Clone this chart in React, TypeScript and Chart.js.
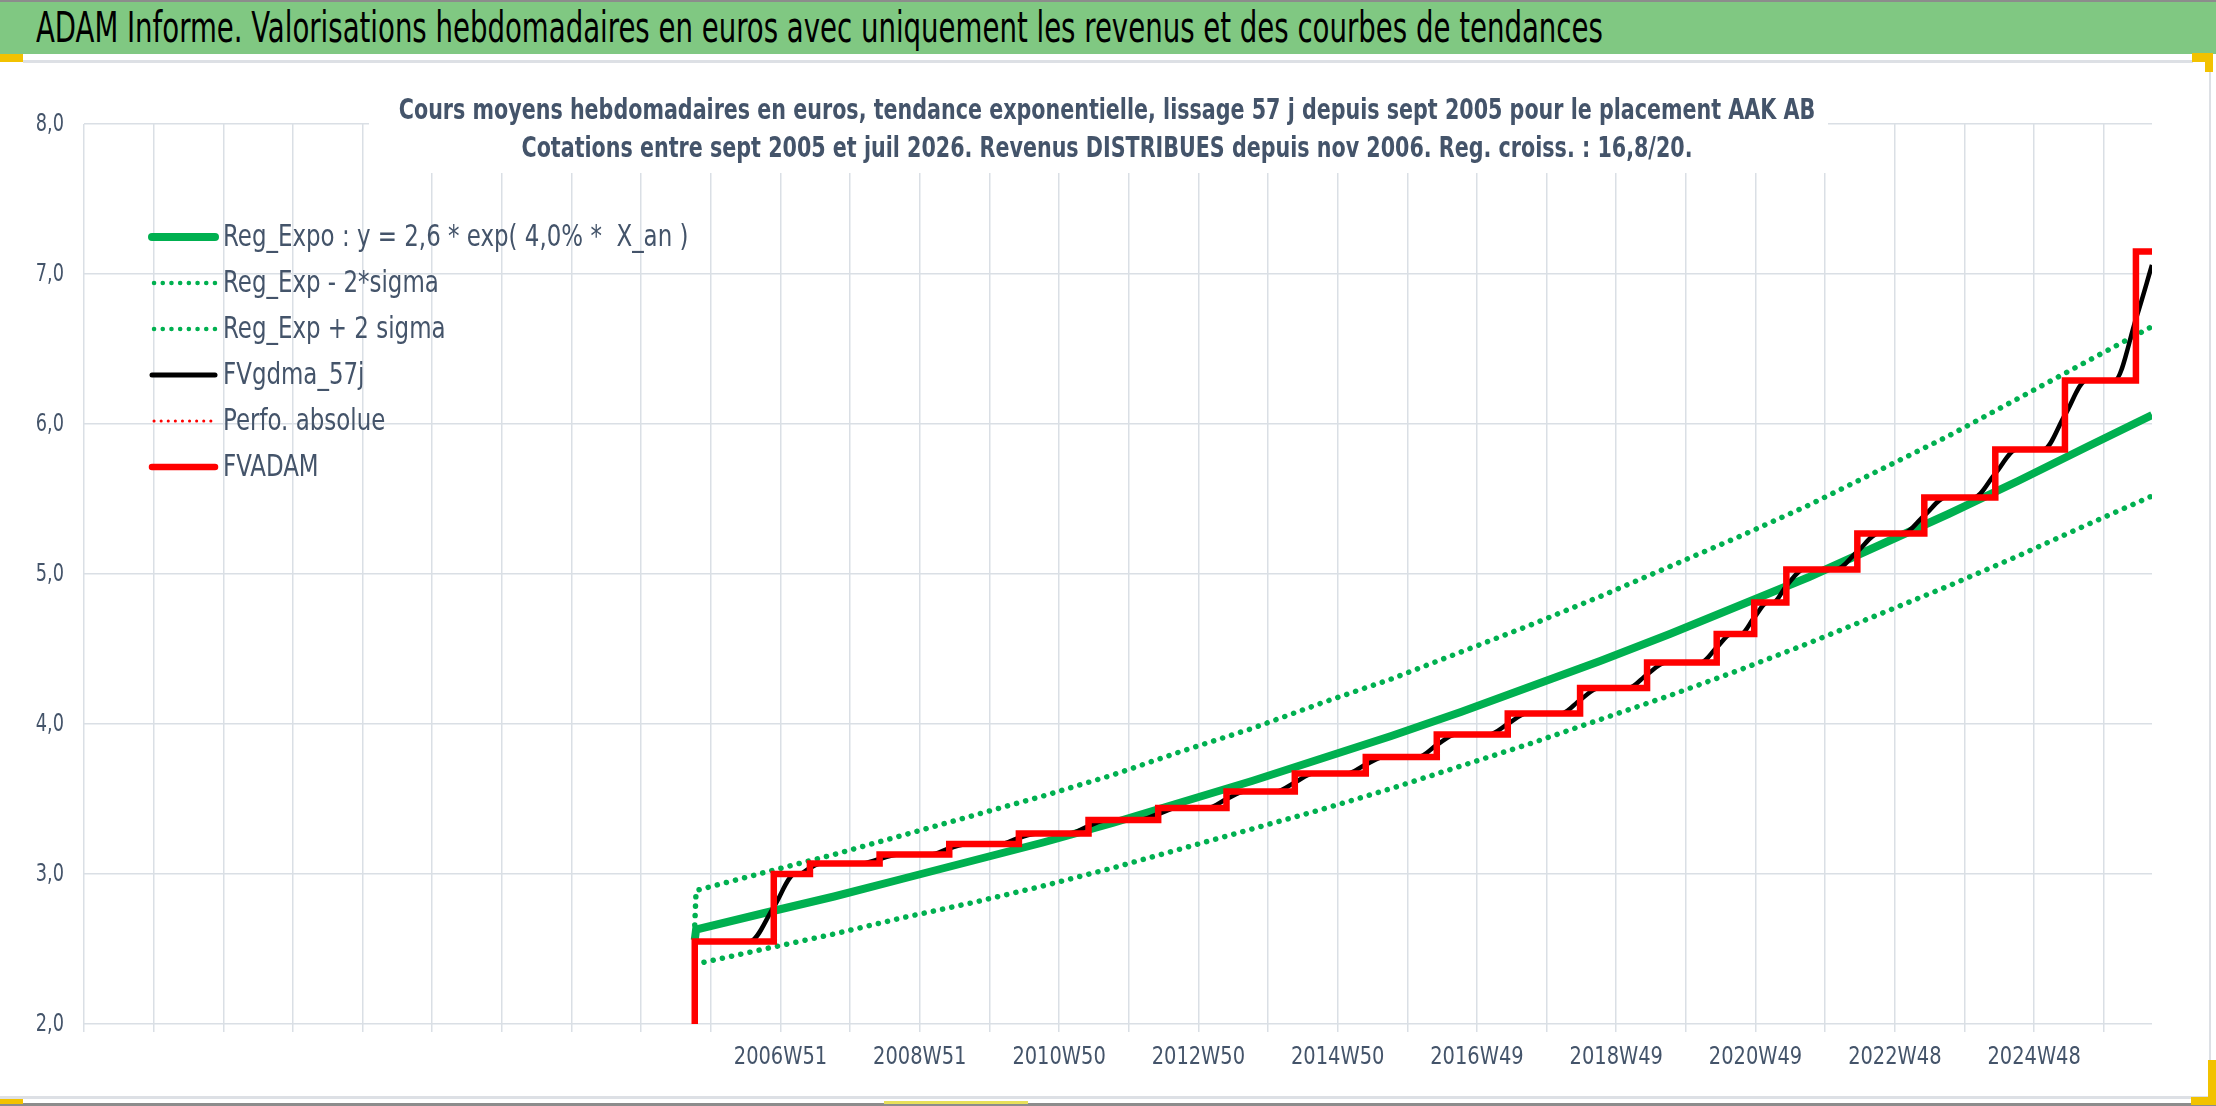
import React, { useEffect, useRef } from 'react';
import { Chart, registerables } from 'chart.js';

Chart.register(...registerables);

// weeks are counted from the first (empty) category of the axis
const xLabelWeeks = [520, 624, 728, 832, 936, 1040, 1144, 1248, 1352, 1456];
const xLabels = ['2006W51', '2008W51', '2010W50', '2012W50', '2014W50', '2016W49', '2018W49', '2020W49', '2022W48', '2024W48'];
const xLastWeek = 1544;
const weeksPerGrid = 52;

// exponential trend and its +/- 2 sigma band, read about once a year
const regWeeks = [456, 457, 508, 560, 612, 664, 716, 768, 820, 872, 924, 976, 1028, 1080, 1132, 1184, 1236, 1288, 1340, 1392, 1444, 1496, 1544];
const regValues = [2.56, 2.63, 2.74, 2.85, 2.97, 3.09, 3.21, 3.34, 3.48, 3.62, 3.77, 3.92, 4.08, 4.25, 4.42, 4.60, 4.79, 4.98, 5.19, 5.40, 5.62, 5.85, 6.06];
const regLowValues = [2.40, 2.40, 2.50, 2.60, 2.71, 2.81, 2.92, 3.04, 3.17, 3.30, 3.43, 3.57, 3.72, 3.87, 4.03, 4.19, 4.36, 4.54, 4.73, 4.92, 5.12, 5.33, 5.52];
const regHighValues = [2.66, 2.89, 3.01, 3.13, 3.26, 3.39, 3.52, 3.66, 3.82, 3.97, 4.14, 4.30, 4.48, 4.66, 4.85, 5.05, 5.25, 5.46, 5.69, 5.92, 6.17, 6.42, 6.65];

// FVADAM: week of each step and the level reached after it
const adamStartLevel = 2.0;
const adamStepWeeks = [456, 515, 542, 594, 646, 698, 750, 802, 853, 904, 957, 1010, 1063, 1117, 1167, 1219, 1247, 1271, 1324, 1374, 1427, 1479, 1532];
const adamLevels = [2.55, 3.00, 3.07, 3.13, 3.20, 3.27, 3.36, 3.44, 3.55, 3.67, 3.78, 3.93, 4.07, 4.24, 4.41, 4.60, 4.81, 5.03, 5.27, 5.51, 5.83, 6.29, 7.15];

// FVgdma_57j (smoothed)
const smoothWeeks = [456, 497, 515, 531, 534, 542, 550, 580, 594, 608, 632, 646, 660, 684, 698, 712, 736, 750, 764, 788, 802, 816, 839, 853, 867, 890, 904, 918, 943, 957, 971, 996, 1010, 1024, 1049, 1063, 1077, 1103, 1117, 1131, 1153, 1167, 1181, 1207, 1219, 1230, 1237, 1247, 1257, 1261, 1271, 1284, 1308, 1324, 1340, 1358, 1374, 1390, 1411, 1427, 1443, 1463, 1479, 1495, 1516, 1532, 1544];
const smoothValues = [2.55, 2.55, 2.78, 3.00, 3.00, 3.04, 3.07, 3.07, 3.10, 3.13, 3.13, 3.17, 3.20, 3.20, 3.24, 3.27, 3.27, 3.32, 3.36, 3.36, 3.40, 3.44, 3.44, 3.50, 3.55, 3.55, 3.61, 3.67, 3.67, 3.73, 3.78, 3.78, 3.86, 3.93, 3.93, 4.00, 4.07, 4.07, 4.16, 4.24, 4.24, 4.33, 4.41, 4.41, 4.51, 4.60, 4.60, 4.71, 4.81, 4.81, 4.92, 5.03, 5.03, 5.15, 5.27, 5.27, 5.39, 5.51, 5.51, 5.67, 5.83, 5.83, 6.06, 6.29, 6.29, 6.70, 7.06];

const seriesLabels = [
  'Reg_Expo : y = 2,6 * exp( 4,0% *  X_an )',
  'Reg_Exp - 2*sigma',
  'Reg_Exp + 2 sigma',
  'FVgdma_57j',
  'Perfo. absolue',
  'FVADAM',
];

const headerText = 'ADAM Informe. Valorisations hebdomadaires en euros avec uniquement les revenus et des courbes de tendances';
const titleLines = [
  'Cours moyens hebdomadaires en euros, tendance exponentielle, lissage 57 j depuis sept 2005 pour le placement AAK AB',
  'Cotations entre sept 2005 et juil 2026. Revenus DISTRIBUES depuis nov 2006. Reg. croiss. : 16,8/20.',
];

const NARROW = "'Liberation Sans Narrow', 'Arial Narrow', 'DejaVu Sans Condensed', sans-serif";
const SLATE = '#44546A';
const GRID = '#DADFE5';
const GREEN = '#00B050';

const CANVAS_TOP = 62;
const CANVAS_H = 1034;
const PLOT_LEFT = 84;
const PLOT_RIGHT = 2152;
const PLOT_TOP = 124;
const PLOT_BOTTOM = 1024;

const pts = (xs: number[], ys: number[]) => xs.map((x, i) => ({ x, y: ys[i] }));

function adamPoints() {
  const out: { x: number; y: number }[] = [];
  let prev = adamStartLevel;
  adamStepWeeks.forEach((w, i) => {
    out.push({ x: w, y: prev });
    out.push({ x: w, y: adamLevels[i] });
    prev = adamLevels[i];
  });
  out.push({ x: xLastWeek, y: prev });
  return out;
}

// text squeezed horizontally, like the narrow font of the original
function squeezedText(ctx: CanvasRenderingContext2D, text: string, x: number, y: number, align: CanvasTextAlign, k: number) {
  ctx.save();
  ctx.translate(x, y);
  ctx.scale(k, 1);
  ctx.textAlign = align;
  ctx.textBaseline = 'middle';
  ctx.fillText(text, 0, 0);
  ctx.restore();
}

const insideLegend = {
  id: 'insideLegend',
  afterDraw(chart: any) {
    const ctx = chart.ctx;
    const x0 = 152;
    const x1 = 215;
    chart.data.datasets.forEach((ds: any, i: number) => {
      const y = 237 - CANVAS_TOP + i * 46;
      ctx.save();
      ctx.strokeStyle = ds.borderColor;
      ctx.lineWidth = ds.legendWidth ?? ds.borderWidth;
      ctx.lineCap = 'round';
      ctx.setLineDash(ds.legendDash ?? []);
      ctx.beginPath();
      ctx.moveTo(x0 + (ds.legendDash ? 2 : 0), y);
      ctx.lineTo(x1, y);
      ctx.stroke();
      ctx.setLineDash([]);
      ctx.fillStyle = SLATE;
      ctx.font = `30px ${NARROW}`;
      squeezedText(ctx, ds.label, 223, y + 1, 'left', 0.85);
      ctx.restore();
    });
  },
};

const axisLabels = {
  id: 'axisLabels',
  afterDraw(chart: any) {
    const ctx = chart.ctx;
    const xs = chart.scales.x;
    const ys = chart.scales.y;
    ctx.save();
    ctx.fillStyle = SLATE;
    ctx.font = `24px ${NARROW}`;
    xs.ticks.forEach((t: any) => {
      if (!t.label) return;
      squeezedText(ctx, t.label, xs.getPixelForValue(t.value), xs.top + 34, 'center', 0.9);
    });
    ys.ticks.forEach((t: any) => {
      squeezedText(ctx, t.label, ys.right - 20, ys.getPixelForValue(t.value) + 1, 'right', 0.82);
    });
    ctx.restore();
  },
};

export default function App() {
  const canvasRef = useRef<HTMLCanvasElement>(null);

  useEffect(() => {
    const ctx = canvasRef.current?.getContext('2d');
    if (!ctx) return;
    const chart = new Chart(ctx, {
      type: 'line',
      data: {
        datasets: [
          {
            label: seriesLabels[0],
            data: pts(regWeeks, regValues),
            borderColor: GREEN,
            borderWidth: 8,
            order: 6,
          },
          {
            label: seriesLabels[1],
            data: pts(regWeeks, regLowValues),
            borderColor: GREEN,
            borderWidth: 5.5,
            borderDash: [0.1, 9.3],
            borderCapStyle: 'round',
            legendDash: [0.1, 8.6],
            legendWidth: 4.5,
            order: 5,
          },
          {
            label: seriesLabels[2],
            data: pts(regWeeks, regHighValues),
            borderColor: GREEN,
            borderWidth: 5.5,
            borderDash: [0.1, 9.3],
            borderCapStyle: 'round',
            legendDash: [0.1, 8.6],
            legendWidth: 4.5,
            order: 4,
          },
          {
            label: seriesLabels[3],
            data: pts(smoothWeeks, smoothValues),
            borderColor: '#000000',
            borderWidth: 4.5,
            cubicInterpolationMode: 'monotone',
            legendWidth: 5,
            order: 3,
          },
          {
            label: seriesLabels[4],
            data: [],
            borderColor: '#FF0000',
            borderWidth: 3,
            borderDash: [0.1, 6.5],
            legendDash: [0.1, 7],
            legendWidth: 3,
            order: 2,
          },
          {
            label: seriesLabels[5],
            data: adamPoints(),
            borderColor: '#FF0000',
            borderWidth: 6.5,
            borderJoinStyle: 'miter',
            order: 1,
          },
        ] as any,
      },
      options: {
        animation: false,
        responsive: true,
        maintainAspectRatio: false,
        elements: { point: { radius: 0, hoverRadius: 0 }, line: { tension: 0 } },
        layout: {
          padding: { left: 0, right: 2216 - PLOT_RIGHT, top: PLOT_TOP - CANVAS_TOP, bottom: 0 },
        },
        plugins: {
          legend: { display: false },
          tooltip: { enabled: false },
        },
        scales: {
          x: {
            type: 'linear',
            min: 0,
            max: xLastWeek,
            afterFit: (s: any) => {
              s.height = CANVAS_H - (PLOT_BOTTOM - CANVAS_TOP);
            },
            border: { display: false },
            grid: { color: GRID, lineWidth: 1.5, drawTicks: true, tickLength: 8 },
            ticks: {
              display: false,
              stepSize: weeksPerGrid,
              includeBounds: false,
              autoSkip: false,
              maxRotation: 0,
              callback: (v: any) => {
                const i = xLabelWeeks.indexOf(Number(v));
                return i >= 0 ? xLabels[i] : '';
              },
            },
          },
          y: {
            min: 2,
            max: 8,
            afterFit: (s: any) => {
              s.width = PLOT_LEFT;
            },
            border: { display: false },
            grid: { color: GRID, lineWidth: 1.5, drawTicks: false },
            ticks: {
              display: false,
              stepSize: 1,
              callback: (v: any) => Number(v).toFixed(1).replace('.', ','),
            },
          },
        },
      },
      plugins: [insideLegend, axisLabels],
    });
    return () => chart.destroy();
  }, []);

  const yellow = '#F2C200';

  return (
    <div style={{ position: 'absolute', left: 0, top: 0, width: 2216, height: 1106, background: '#fff', overflow: 'hidden' }}>
      <div style={{ position: 'absolute', left: 0, top: 0, width: 2216, height: 2, background: '#8C8C8C' }} />
      <div
        style={{
          position: 'absolute', left: 0, top: 2, width: 2216, height: 52, background: '#80C882',
          overflow: 'hidden',
        }}
      >
        <div
          style={{
            position: 'absolute', left: 36, top: 0, height: 52, lineHeight: '52px', whiteSpace: 'nowrap',
            fontFamily: NARROW, fontSize: 42, color: '#000', transformOrigin: 'left center', transform: 'scaleX(0.73)',
          }}
        >
          {headerText}
        </div>
      </div>
      <div style={{ position: 'absolute', left: 0, top: 54, width: 23, height: 8, background: yellow }} />
      <div style={{ position: 'absolute', left: 23, top: 60, width: 2170, height: 3, background: '#DDE0E5' }} />
      <div style={{ position: 'absolute', left: 2192, top: 53, width: 21, height: 9, background: yellow }} />
      <div style={{ position: 'absolute', left: 2205, top: 53, width: 8, height: 19, background: yellow }} />
      <div style={{ position: 'absolute', left: 2209, top: 72, width: 2, height: 990, background: '#DDE0E5' }} />
      <div style={{ position: 'absolute', left: 0, top: 1096, width: 2216, height: 3, background: '#DDE0E5' }} />
      <div style={{ position: 'absolute', left: 0, top: 1103, width: 2216, height: 3, background: '#8C8C8C' }} />
      <div style={{ position: 'absolute', left: 0, top: 1099, width: 23, height: 5, background: yellow }} />
      <div style={{ position: 'absolute', left: 884, top: 1101, width: 144, height: 3, background: '#E8E05A' }} />
      <div style={{ position: 'absolute', left: 2208, top: 1060, width: 8, height: 45, background: yellow }} />
      <div style={{ position: 'absolute', left: 2191, top: 1097, width: 25, height: 8, background: yellow }} />

      <div style={{ position: 'absolute', left: 0, top: CANVAS_TOP, width: 2216, height: CANVAS_H }}>
        <canvas ref={canvasRef} />
      </div>

      <div style={{ position: 'absolute', left: 369, top: 91, width: 1459, height: 82, background: '#fff' }} />
      {titleLines.map((t, i) => (
        <div
          key={t}
          style={{
            position: 'absolute', left: 0, top: 91 + i * 38, width: 2214, height: 38, lineHeight: '38px',
            textAlign: 'center', whiteSpace: 'nowrap', fontFamily: NARROW, fontWeight: 'bold', fontSize: 28,
            color: SLATE, transform: 'scaleX(0.82)', transformOrigin: 'center',
          }}
        >
          {t}
        </div>
      ))}
    </div>
  );
}
